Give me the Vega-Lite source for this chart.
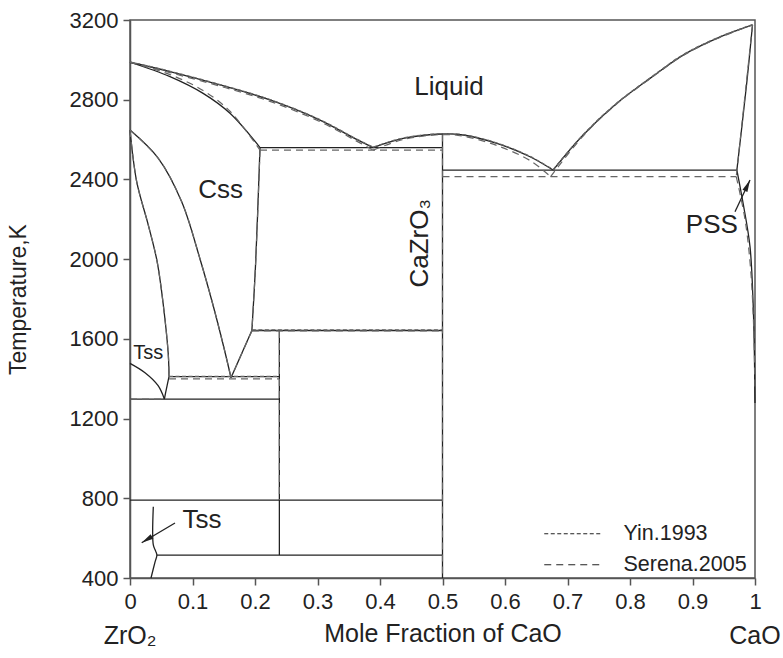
{
  "$schema": "https://vega.github.io/schema/vega-lite/v6.json",
  "width": 625,
  "height": 558,
  "autosize": "none",
  "padding": {"left": 130, "top": 20, "right": 28, "bottom": 80},
  "background": "white",
  "config": {
    "font": "Liberation Sans",
    "view": {"stroke": "#555", "strokeWidth": 1.5},
    "axis": {
      "grid": false,
      "domainColor": "#555",
      "domainWidth": 1.5,
      "tickColor": "#555",
      "tickWidth": 1.5,
      "tickSize": 7,
      "labelFontSize": 22,
      "labelColor": "#222",
      "labelFont": "Liberation Sans",
      "labelFlush": false,
      "titleFont": "Liberation Sans",
      "titleFontWeight": "normal",
      "titleColor": "#222"
    },
    "legend": {"labelFont": "Liberation Sans"}
  },
  "datasets": {
    "lines": [
      {"s": "calc", "g": "c1", "x": [0, 0.064, 0.144, 0.224, 0.304, 0.357, 0.389], "T": [2988, 2941, 2874, 2799, 2698, 2610, 2560]},
      {"s": "calc", "g": "c2", "x": [0, 0.064, 0.117, 0.16, 0.208], "T": [2988, 2916, 2832, 2732, 2560]},
      {"s": "calc", "g": "c3", "x": [0.208, 0.5], "T": [2560, 2560]},
      {"s": "calc", "g": "c4", "x": [0.389, 0.437, 0.5, 0.533, 0.587, 0.64, 0.677], "T": [2560, 2606, 2628, 2623, 2581, 2514, 2447]},
      {"s": "calc", "g": "c5", "x": [0.677, 0.725, 0.779, 0.832, 0.885, 0.939, 0.996], "T": [2447, 2623, 2782, 2907, 3024, 3108, 3175]},
      {"s": "calc", "g": "c6", "x": [0.996, 0.987, 0.971], "T": [3175, 2890, 2447]},
      {"s": "calc", "g": "c7", "x": [0.971, 0.981, 0.992, 0.997, 0.999, 1.0], "T": [2447, 2280, 2063, 1778, 1529, 1278]},
      {"s": "calc", "g": "c8", "x": [0.5, 0.971], "T": [2447, 2447]},
      {"s": "calc", "g": "c9", "x": [0.5, 0.5], "T": [2628, 400]},
      {"s": "calc", "g": "c10", "x": [0.208, 0.201, 0.195], "T": [2560, 1979, 1642]},
      {"s": "calc", "g": "c11", "x": [0.195, 0.5], "T": [1642, 1642]},
      {"s": "calc", "g": "c12", "x": [0.195, 0.1616], "T": [1642, 1405]},
      {"s": "calc", "g": "c13", "x": [0, 0.0453, 0.0827, 0.112, 0.1328, 0.1504, 0.1616], "T": [2648, 2506, 2288, 2001, 1770, 1554, 1405]},
      {"s": "calc", "g": "c14", "x": [0, 0.0107, 0.0293, 0.0432, 0.0533, 0.0613, 0.0624], "T": [2648, 2389, 2171, 1991, 1770, 1519, 1410]},
      {"s": "calc", "g": "c15", "x": [0.0624, 0.057, 0.055], "T": [1410, 1330, 1298]},
      {"s": "calc", "g": "c16", "x": [0, 0.024, 0.045, 0.055], "T": [1477, 1430, 1365, 1298]},
      {"s": "calc", "g": "c17", "x": [0.0624, 0.239], "T": [1410, 1410]},
      {"s": "calc", "g": "c18", "x": [0, 0.239], "T": [1298, 1298]},
      {"s": "calc", "g": "c19", "x": [0.239, 0.239], "T": [1642, 515]},
      {"s": "calc", "g": "c20", "x": [0, 0.5], "T": [791, 791]},
      {"s": "calc", "g": "c21", "x": [0.043, 0.5], "T": [515, 515]},
      {"s": "calc", "g": "c22", "x": [0.0373, 0.0373, 0.041, 0.043, 0.04, 0.0336], "T": [758, 566, 535, 515, 480, 400]},
      {"s": "calc", "g": "a1", "x": [0.072, 0.0187], "T": [676, 577]},
      {"s": "calc", "g": "a2", "x": [0.968, 0.992], "T": [2238, 2397]},
      {"s": "Serena.2005", "g": "s1", "x": [0, 0.064, 0.144, 0.224, 0.304, 0.357, 0.389], "T": [2988, 2936, 2868, 2792, 2690, 2602, 2547]},
      {"s": "Serena.2005", "g": "s2", "x": [0, 0.064, 0.117, 0.16, 0.208], "T": [2988, 2926, 2846, 2742, 2547]},
      {"s": "Serena.2005", "g": "s3", "x": [0.208, 0.5], "T": [2547, 2547]},
      {"s": "Serena.2005", "g": "s4", "x": [0.389, 0.437, 0.5, 0.533, 0.587, 0.64, 0.673], "T": [2547, 2600, 2625, 2617, 2570, 2495, 2414]},
      {"s": "Serena.2005", "g": "s5", "x": [0.673, 0.725, 0.779, 0.832, 0.885, 0.939, 0.996], "T": [2414, 2618, 2780, 2905, 3022, 3106, 3175]},
      {"s": "Serena.2005", "g": "s6", "x": [0.996, 0.986, 0.97], "T": [3175, 2880, 2414]},
      {"s": "Serena.2005", "g": "s7", "x": [0.97, 0.984, 0.993, 0.998, 1.0], "T": [2414, 2200, 1950, 1650, 1350]},
      {"s": "Serena.2005", "g": "s8", "x": [0.5, 0.97], "T": [2414, 2414]},
      {"s": "Serena.2005", "g": "s9", "x": [0.5, 0.5], "T": [2625, 400]},
      {"s": "Serena.2005", "g": "s10", "x": [0.208, 0.201, 0.195], "T": [2547, 1979, 1640]},
      {"s": "Serena.2005", "g": "s11", "x": [0.195, 0.5], "T": [1640, 1640]},
      {"s": "Serena.2005", "g": "s12", "x": [0.0624, 0.239], "T": [1399, 1399]},
      {"s": "Serena.2005", "g": "s13", "x": [0.239, 0.239], "T": [1640, 791]},
      {"s": "Serena.2005", "g": "s14", "x": [0, 0.055], "T": [1298, 1298]},
      {"s": "Serena.2005", "g": "s15", "x": [0, 0.0107, 0.0293, 0.0432, 0.0533, 0.0613, 0.0624], "T": [2648, 2389, 2171, 1991, 1770, 1519, 1410]},
      {"s": "Serena.2005", "g": "s16", "x": [0, 0.0453, 0.0827, 0.112, 0.1328, 0.1504, 0.1616], "T": [2648, 2506, 2288, 2001, 1770, 1554, 1405]},
      {"s": "Serena.2005", "g": "s17", "x": [0.195, 0.1616], "T": [1640, 1405]},
      {"s": "Yin.1993", "g": "y1", "x": [0, 0.064, 0.144, 0.224, 0.304, 0.357, 0.389], "T": [2990, 2943, 2876, 2801, 2700, 2612, 2562]},
      {"s": "Yin.1993", "g": "y2", "x": [0.389, 0.437, 0.5, 0.533, 0.587, 0.64, 0.677], "T": [2562, 2608, 2630, 2625, 2583, 2516, 2449]},
      {"s": "Yin.1993", "g": "y3", "x": [0.677, 0.725, 0.779, 0.832, 0.885, 0.939, 0.996], "T": [2449, 2625, 2784, 2909, 3026, 3110, 3177]},
      {"s": "Yin.1993", "g": "y4", "x": [0.195, 0.5], "T": [1645, 1645]},
      {"s": "Yin.1993", "g": "y5", "x": [0.0624, 0.239], "T": [1412, 1412]}
    ],
    "tips": [
      {"id": "tss", "x": 0.0187, "T": 577},
      {"id": "pss", "x": 0.992, "T": 2397}
    ],
    "labels": [
      {"id": "big", "x": 0.5104, "T": 2864, "t": "Liquid"},
      {"id": "big", "x": 0.145, "T": 2347, "t": "Css"},
      {"id": "big", "x": 0.931, "T": 2171, "t": "PSS"},
      {"id": "big", "x": 0.115, "T": 691, "t": "Tss"},
      {"id": "small", "x": 0.029, "T": 1530, "t": "Tss"},
      {"id": "rot", "x": 0.464, "T": 2080, "t": "CaZrO₃"},
      {"id": "under", "x": 0, "T": 400, "t": "ZrO₂"},
      {"id": "under", "x": 1, "T": 400, "t": "CaO"}
    ]
  },
  "layer": [
    {
      "data": {"name": "lines"},
      "transform": [{"filter": "datum.s === 'calc'"}, {"flatten": ["x", "T"]}],
      "mark": {"type": "line", "interpolate": "catmull-rom", "color": "#222", "strokeWidth": 1.3},
      "encoding": {
        "x": {"field": "x", "type": "quantitative", "scale": {"domain": [0, 1], "nice": false, "zero": false},
          "axis": {"values": [0, 0.1, 0.2, 0.3, 0.4, 0.5, 0.6, 0.7, 0.8, 0.9, 1], "format": "~g", "title": "Mole Fraction of CaO", "titleFontSize": 25, "labelPadding": 6, "titlePadding": 9}},
        "y": {"field": "T", "type": "quantitative", "scale": {"domain": [400, 3200], "nice": false, "zero": false},
          "axis": {"values": [400, 800, 1200, 1600, 2000, 2400, 2800, 3200], "format": "d", "title": "Temperature,K", "titleFontSize": 23, "labelPadding": 5, "titlePadding": 39}},
        "detail": {"field": "g"},
        "order": {"value": null}
      }
    },
    {
      "data": {"name": "lines"},
      "transform": [{"filter": "datum.s !== 'calc'"}, {"flatten": ["x", "T"]}],
      "mark": {"type": "line", "interpolate": "catmull-rom", "color": "#666", "strokeWidth": 1.2},
      "encoding": {
        "x": {"field": "x", "type": "quantitative"},
        "y": {"field": "T", "type": "quantitative"},
        "detail": {"field": "g"},
        "order": {"value": null},
        "strokeDash": {"field": "s", "type": "nominal",
          "scale": {"domain": ["Yin.1993", "Serena.2005"], "range": [[4, 2.5], [7, 5]]},
          "legend": {"title": null, "orient": "none", "legendX": 432, "legendY": 503,
            "symbolType": "M-5,0H5", "symbolSize": 130, "symbolStrokeWidth": 1.2, "symbolStrokeColor": "#222",
            "labelFontSize": 21.5, "labelColor": "#222", "labelOffset": 40, "rowPadding": 8, "padding": 0}}
      }
    },
    {
      "data": {"name": "tips"},
      "transform": [{"filter": "datum.id === 'tss'"}],
      "mark": {"type": "point", "shape": "M0,0L0.45,2L-0.45,2Z", "filled": true, "color": "#222", "size": 144, "angle": 239, "opacity": 1},
      "encoding": {"x": {"field": "x", "type": "quantitative"}, "y": {"field": "T", "type": "quantitative"}}
    },
    {
      "data": {"name": "tips"},
      "transform": [{"filter": "datum.id === 'pss'"}],
      "mark": {"type": "point", "shape": "M0,0L0.45,2L-0.45,2Z", "filled": true, "color": "#222", "size": 144, "angle": 25, "opacity": 1},
      "encoding": {"x": {"field": "x", "type": "quantitative"}, "y": {"field": "T", "type": "quantitative"}}
    },
    {
      "data": {"name": "labels"},
      "transform": [{"filter": "datum.id === 'big'"}],
      "mark": {"type": "text", "fontSize": 26, "color": "#222", "align": "center", "baseline": "middle"},
      "encoding": {"x": {"field": "x", "type": "quantitative"}, "y": {"field": "T", "type": "quantitative"}, "text": {"field": "t"}}
    },
    {
      "data": {"name": "labels"},
      "transform": [{"filter": "datum.id === 'small'"}],
      "mark": {"type": "text", "fontSize": 20, "color": "#222", "align": "center", "baseline": "middle"},
      "encoding": {"x": {"field": "x", "type": "quantitative"}, "y": {"field": "T", "type": "quantitative"}, "text": {"field": "t"}}
    },
    {
      "data": {"name": "labels"},
      "transform": [{"filter": "datum.id === 'rot'"}],
      "mark": {"type": "text", "fontSize": 26, "color": "#222", "align": "center", "baseline": "middle", "angle": 270},
      "encoding": {"x": {"field": "x", "type": "quantitative"}, "y": {"field": "T", "type": "quantitative"}, "text": {"field": "t"}}
    },
    {
      "data": {"name": "labels"},
      "transform": [{"filter": "datum.id === 'under'"}],
      "mark": {"type": "text", "fontSize": 25, "color": "#222", "align": "center", "baseline": "middle", "dy": 58},
      "encoding": {"x": {"field": "x", "type": "quantitative"}, "y": {"field": "T", "type": "quantitative"}, "text": {"field": "t"}}
    }
  ]
}
